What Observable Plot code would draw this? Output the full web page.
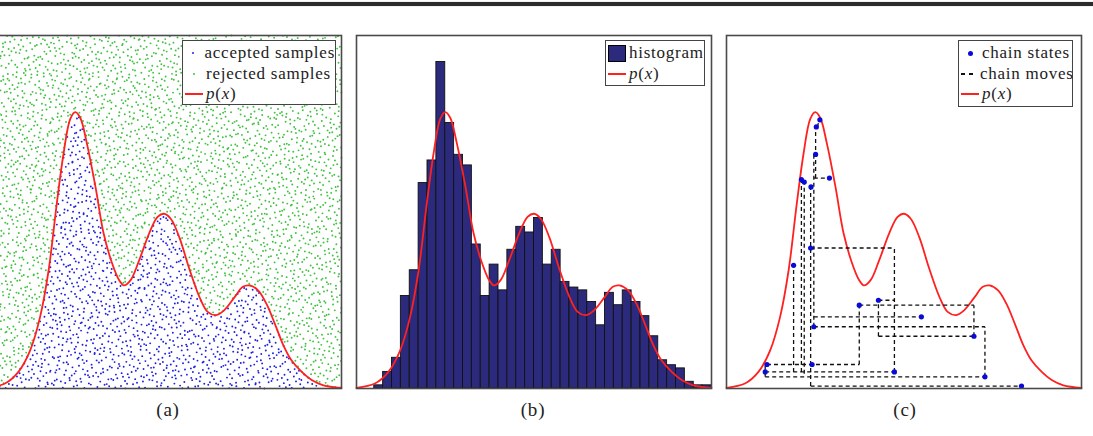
<!DOCTYPE html>
<html>
<head>
<meta charset="utf-8">
<script src="https://cdn.jsdelivr.net/npm/d3@7"></script>
<script src="https://cdn.jsdelivr.net/npm/@observablehq/plot@0.6"></script>
<style>
  html, body { margin: 0; padding: 0; background: #fff; }
  body { width: 1093px; height: 436px; position: relative; overflow: hidden;
         font-family: "Liberation Serif", serif; color: #222; }
  .rule { position: absolute; left: 0; right: 0; top: 2px; height: 4px; background: #2b2b2b;
          box-shadow: 0 0 1px #777; }
  .panel { position: absolute; top: 30px; }
  .legend { position: absolute; top: 40px; background: #fff; border: 1.3px solid #444;
            box-sizing: border-box; padding-top: 2px; font-size: 17px; letter-spacing: 0.75px; }
  .row { display: flex; align-items: center; height: 20.5px; white-space: nowrap; }
  .sw { width: 18px; height: 100%; margin: 0 3px 0 2px; display: flex; align-items: center; justify-content: center; }
  .cap { position: absolute; top: 399px; line-height: 22px; font-size: 19px; letter-spacing: 0.8px;
         transform: translateX(-50%); }
</style>
</head>
<body>
<div class="rule"></div>
<div id="root"></div>
<script>
// Target density p(x), sampled along the unit interval
const curveX = [0.000, 0.052, 0.090, 0.123, 0.151, 0.175, 0.198, 0.217, 0.236, 0.250, 0.264, 0.283,
                0.307, 0.330, 0.354, 0.373, 0.387, 0.406, 0.430, 0.458, 0.482, 0.500, 0.519, 0.543,
                0.571, 0.600, 0.623, 0.647, 0.670, 0.699, 0.722, 0.741, 0.765, 0.788, 0.812, 0.836,
                0.859, 0.888, 0.916, 0.949, 1.000];
const curveY = [0.002, 0.014, 0.047, 0.108, 0.203, 0.335, 0.524, 0.665, 0.764, 0.783, 0.767, 0.693,
                0.571, 0.439, 0.354, 0.308, 0.292, 0.307, 0.363, 0.439, 0.486, 0.495, 0.481, 0.429,
                0.340, 0.259, 0.217, 0.208, 0.222, 0.259, 0.288, 0.292, 0.278, 0.241, 0.184, 0.123,
                0.080, 0.047, 0.024, 0.009, 0.002];

// Histogram of the drawn samples: 40 equal bins over [0, 1]
const histHeights = [0, 0, 0.009, 0.047, 0.087, 0.262, 0.335, 0.582, 0.646, 0.925,
                     0.752, 0.662, 0.632, 0.408, 0.262, 0.351, 0.278, 0.393, 0.458, 0.442,
                     0.483, 0.351, 0.393, 0.302, 0.286, 0.278, 0.245, 0.179, 0.271, 0.236,
                     0.278, 0.245, 0.205, 0.148, 0.080, 0.066, 0.057, 0.019, 0.009, 0.009];

// Slice-sampling chain: visited states (x, u)
const chainX = [0.263, 0.253, 0.251, 0.211, 0.219, 0.238, 0.290, 0.237, 0.189, 0.374,
                0.428, 0.549, 0.246, 0.697, 0.241, 0.114, 0.109, 0.473, 0.728, 0.831];
const chainU = [0.761, 0.741, 0.663, 0.592, 0.585, 0.571, 0.596, 0.398, 0.349, 0.236,
                0.250, 0.203, 0.175, 0.148, 0.068, 0.068, 0.047, 0.047, 0.033, 0.007];

// Chain moves: horizontal and vertical segments between states
const moveX1 = [0.237, 0.109, 0.109, 0.114, 0.428, 0.246, 0.246, 0.374, 0.428, 0.237, 0.246,
                0.109, 0.189, 0.211, 0.219, 0.237, 0.246, 0.251, 0.374, 0.428, 0.473, 0.697, 0.728, 0.256];
const moveY1 = [0.007, 0.033, 0.047, 0.068, 0.148, 0.175, 0.203, 0.236, 0.250, 0.398, 0.596,
                0.033, 0.047, 0.047, 0.042, 0.007, 0.175, 0.596, 0.068, 0.148, 0.047, 0.148, 0.033, 0.741];
const moveX2 = [0.831, 0.728, 0.473, 0.374, 0.697, 0.728, 0.549, 0.697, 0.473, 0.473, 0.290,
                0.109, 0.189, 0.211, 0.219, 0.237, 0.246, 0.251, 0.374, 0.428, 0.473, 0.697, 0.728, 0.261];
const moveY2 = [0.007, 0.033, 0.047, 0.068, 0.148, 0.175, 0.203, 0.236, 0.250, 0.398, 0.596,
                0.068, 0.349, 0.592, 0.585, 0.571, 0.663, 0.741, 0.236, 0.250, 0.398, 0.236, 0.175, 0.761];

const legendA = ["accepted samples", "rejected samples", "p(x)"];
const legendB = ["histogram", "p(x)"];
const legendC = ["chain states", "chain moves", "p(x)"];
const panelLabels = ["(a)", "(b)", "(c)"];

const RED = "#ff2020", BLUE = "#1f1fe0", GREEN = "#3fc23f", NAVY = "#2c2a7c";

// Build tables for the marks
const curve = curveX.map((x, i) => ({x, y: curveY[i]}));
const bins = histHeights.map((h, i) => ({x1: i / histHeights.length, x2: (i + 1) / histHeights.length, h}));
const states = chainX.map((x, i) => ({x, u: chainU[i]}));
const moves = moveX1.map((x1, i) => ({x1, y1: moveY1[i], x2: moveX2[i], y2: moveY2[i]}));

// Rejection sampling: proposals spread over the box with a leaped Halton
// sequence, accepted where they fall under p(x)
function halton(i, b) { let f = 1, r = 0; while (i > 0) { f /= b; r += f * (i % b); i = Math.floor(i / b); } return r; }
const pAt = d3.scaleLinear().domain(curveX).range(curveY).clamp(true);
const proposals = d3.range(1, 4401).map(i => ({x: halton(i * 409, 2), y: halton(i * 409, 3)}));
const accepted = proposals.filter(d => d.y < pAt(d.x));
const rejected = proposals.filter(d => d.y >= pAt(d.x));

function panel(marks) {
  return Plot.plot({
    width: 365, height: 363, margin: 5,
    x: {domain: [0, 1], axis: null},
    y: {domain: [0, 1], axis: null},
    style: {background: "transparent", overflow: "visible"},
    marks
  });
}
const frame = () => Plot.frame({stroke: "#4a4a4a", strokeWidth: 1.6});
const density = () => Plot.line(curve, {x: "x", y: "y", stroke: RED, strokeWidth: 1.8, curve: "catmull-rom"});

const plots = [
  panel([
    Plot.dot(rejected, {x: "x", y: "y", r: 0.95, fill: GREEN, stroke: null}),
    Plot.dot(accepted, {x: "x", y: "y", r: 0.95, fill: BLUE, stroke: null}),
    density(),
    frame()
  ]),
  panel([
    Plot.rectY(bins, {x1: "x1", x2: "x2", y: "h", fill: NAVY, stroke: "#111", strokeWidth: 0.9}),
    density(),
    frame()
  ]),
  panel([
    density(),
    Plot.link(moves, {x1: "x1", y1: "y1", x2: "x2", y2: "y2", stroke: "#111", strokeWidth: 1.3, strokeDasharray: "4,3"}),
    Plot.dot(states, {x: "x", y: "u", r: 2.6, fill: "#0a0ad8", stroke: null}),
    frame()
  ])
];

const root = document.getElementById("root");
const panelLeft = [-14, 356, 726];
plots.forEach((svg, i) => {
  const div = document.createElement("div");
  div.className = "panel";
  div.style.left = (panelLeft[i] - 5) + "px";
  div.appendChild(svg);
  root.appendChild(div);
});

// Legends
const sw = {
  tinyDot: c => `<span style="width:2px;height:2px;border-radius:50%;background:${c}"></span>`,
  dot: c => `<span style="width:5px;height:5px;border-radius:50%;background:${c}"></span>`,
  line: c => `<span style="width:18px;height:2px;background:${c}"></span>`,
  dash: c => `<span style="width:16px;height:1.5px;background:repeating-linear-gradient(90deg,${c} 0 4px,transparent 4px 8px)"></span>`,
  box: c => `<span style="width:16px;height:15px;background:${c};border:1px solid #000"></span>`
};
const label = t => t === "p(x)" ? "<i>p</i>(<i>x</i>)" : t;
function legend(left, width, height, entries) {
  const div = document.createElement("div");
  div.className = "legend";
  div.style.left = left + "px";
  div.style.width = width + "px";
  div.style.height = height + "px";
  div.innerHTML = entries.map(([s, t]) => `<div class="row"><span class="sw">${s}</span><span>${label(t)}</span></div>`).join("");
  root.appendChild(div);
}
legend(182, 154, 65, [[sw.tinyDot(BLUE), legendA[0]], [sw.tinyDot(GREEN), legendA[1]], [sw.line(RED), legendA[2]]]);
legend(605, 100, 46, [[sw.box(NAVY), legendB[0]], [sw.line(RED), legendB[1]]]);
legend(958, 115, 67, [[sw.dot("#0a0ad8"), legendC[0]], [sw.dash("#111"), legendC[1]], [sw.line(RED), legendC[2]]]);

// Panel captions
const capX = [168, 533, 905];
panelLabels.forEach((t, i) => {
  const div = document.createElement("div");
  div.className = "cap";
  div.style.left = capX[i] + "px";
  div.textContent = t;
  root.appendChild(div);
});
</script>
</body>
</html>
